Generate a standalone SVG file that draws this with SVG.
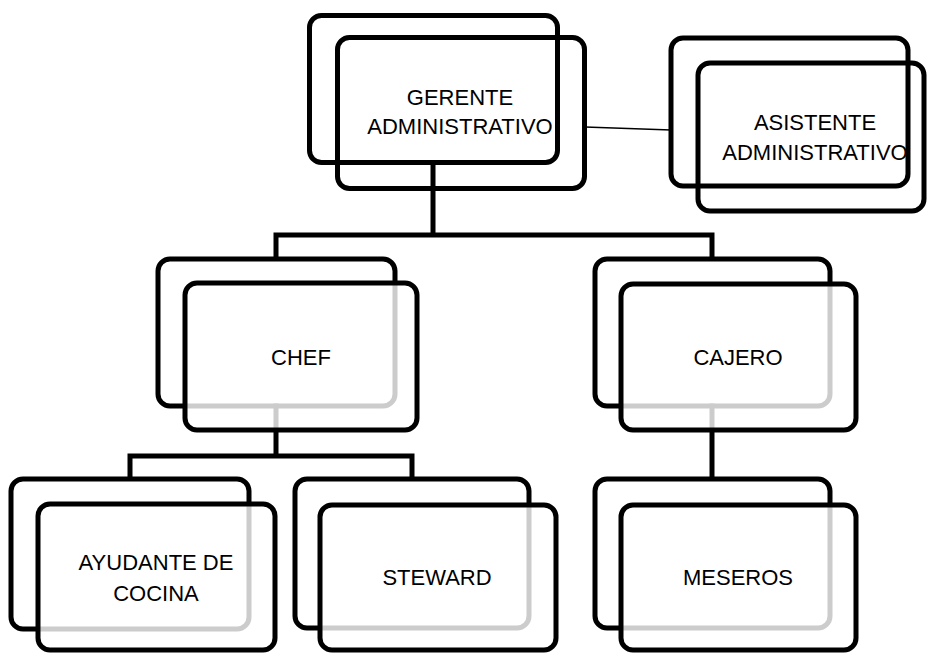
<svg xmlns="http://www.w3.org/2000/svg" width="927" height="653" viewBox="0 0 927 653">
<style>
.bg{fill:#fff}
.back{fill:none;stroke:#000;stroke-width:5}
.front{fill:none;stroke:#000;stroke-width:5}
.frontf{fill:#fff;fill-opacity:0.8;stroke:#000;stroke-width:5}
.conn{fill:none;stroke:#000;stroke-width:5;stroke-linecap:square}
.thin{fill:none;stroke:#000;stroke-width:1.5}
.lbl{font-family:"Liberation Sans",Arial,sans-serif;font-size:22px;fill:#000;text-anchor:middle}
</style>
<rect class="bg" x="0" y="0" width="927" height="653"/>
<g id="connectors">
<path class="conn" d="M433 163 V235 M276 235 H712 M276 235 V258 M712 235 V258"/>
<path class="conn" d="M276 406 V456 M130 456 H412 M130 456 V478 M412 456 V478"/>
<path class="conn" d="M712 406 V478"/>
<path class="thin" d="M585 127 L671 130"/>
</g>
<g id="gerente">
<rect class="back" x="309.5" y="15.5" width="248" height="147" rx="12"/>
<rect class="front" x="337.5" y="37.5" width="247" height="151" rx="12"/>
<text class="lbl" x="460" y="105">GERENTE</text>
<text class="lbl" x="460" y="134">ADMINISTRATIVO</text>
</g>
<g id="asistente">
<rect class="back" x="671" y="38" width="237" height="148" rx="12"/>
<rect class="front" x="698" y="63" width="226" height="148" rx="12"/>
<text class="lbl" x="815" y="130">ASISTENTE</text>
<text class="lbl" x="815" y="160">ADMINISTRATIVO</text>
</g>
<g id="chef">
<rect class="back" x="158" y="259" width="237" height="147" rx="12"/>
<rect class="frontf" x="185" y="283" width="232" height="147" rx="12"/>
<text class="lbl" x="301" y="365">CHEF</text>
</g>
<g id="cajero">
<rect class="back" x="595" y="259" width="235" height="147" rx="12"/>
<rect class="frontf" x="621" y="284" width="235" height="146" rx="12"/>
<text class="lbl" x="738" y="365">CAJERO</text>
</g>
<g id="ayudante">
<rect class="back" x="11" y="479" width="238" height="150" rx="12"/>
<rect class="frontf" x="38" y="504" width="237" height="146" rx="12"/>
<text class="lbl" x="156" y="570">AYUDANTE DE</text>
<text class="lbl" x="156" y="601">COCINA</text>
</g>
<g id="steward">
<rect class="back" x="295" y="479" width="234" height="149" rx="12"/>
<rect class="frontf" x="320" y="505" width="236" height="145" rx="12"/>
<text class="lbl" x="437" y="585">STEWARD</text>
</g>
<g id="meseros">
<rect class="back" x="595" y="479" width="235" height="149" rx="12"/>
<rect class="frontf" x="621" y="505" width="235" height="145" rx="12"/>
<text class="lbl" x="738" y="585">MESEROS</text>
</g>
</svg>
